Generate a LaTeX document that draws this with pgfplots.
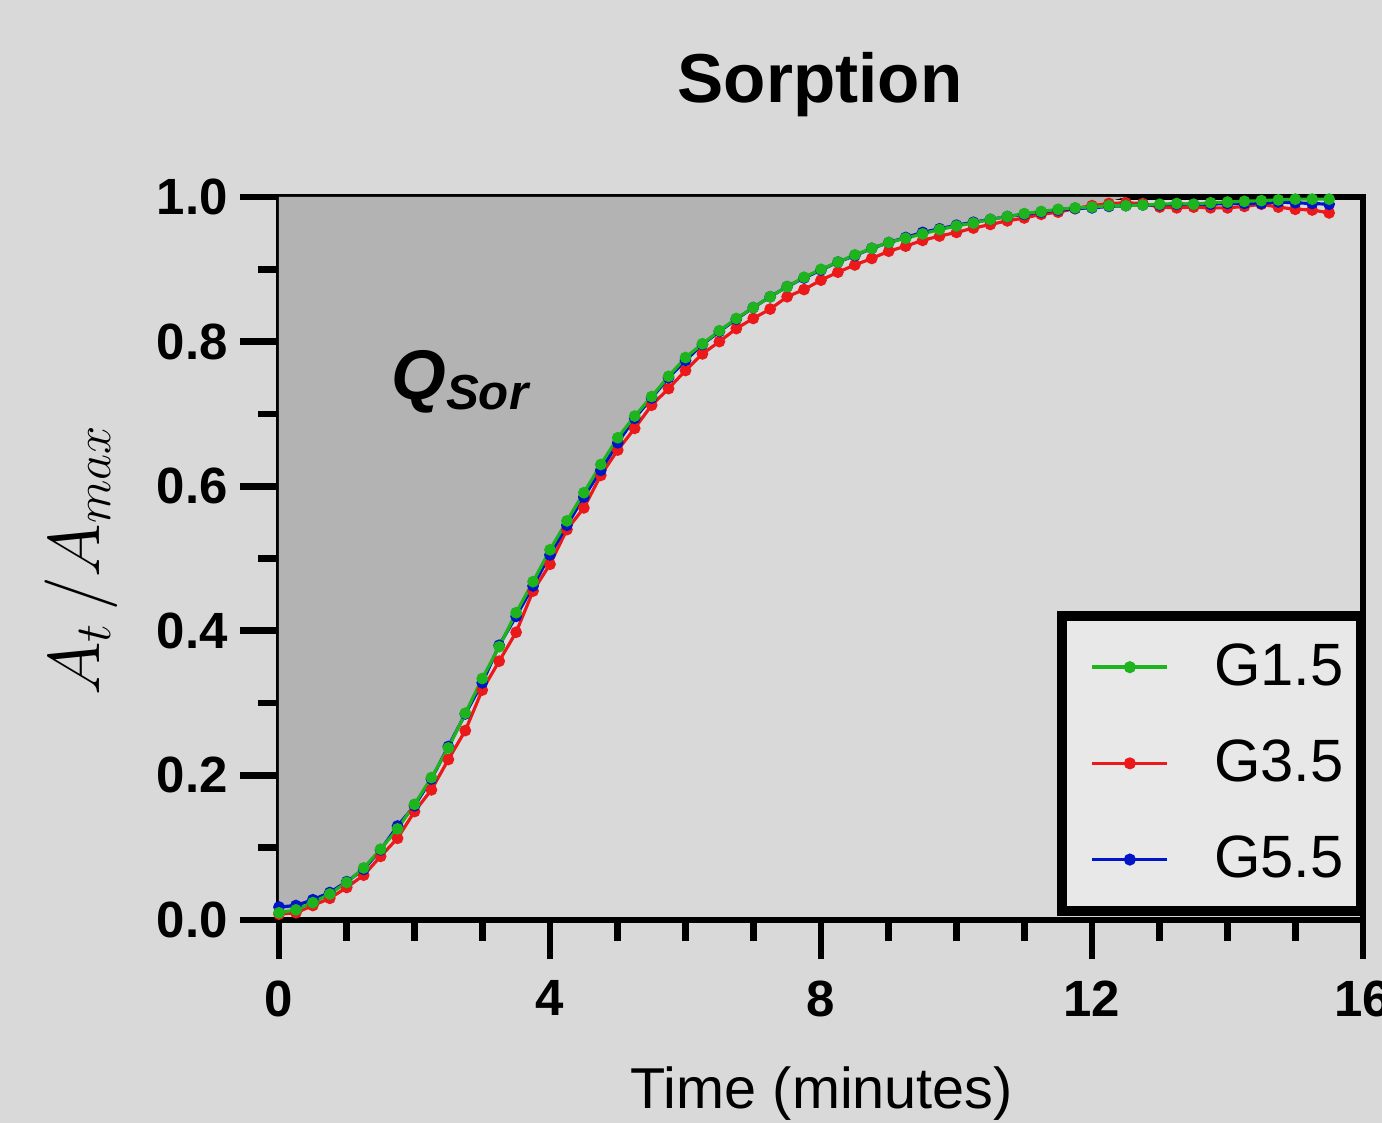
\documentclass[border=0pt]{standalone}
\usepackage{fontspec}
\setmainfont{Liberation Sans}
\usepackage{pgfplots}
\pgfplotsset{compat=1.18}
\usepackage{pgfplotstable}
\definecolor{bgc}{HTML}{D9D9D9}
\definecolor{shadec}{HTML}{B3B3B3}
\definecolor{legfill}{HTML}{E8E8E8}
\definecolor{cg}{RGB}{30,180,30}
\definecolor{cr}{RGB}{235,25,25}
\definecolor{cb}{RGB}{0,20,200}

\pgfplotstableread{
t y
0.00 0.010
0.25 0.014
0.50 0.024
0.75 0.036
1.00 0.052
1.25 0.072
1.50 0.098
1.75 0.126
2.00 0.160
2.25 0.197
2.50 0.238
2.75 0.286
3.00 0.334
3.25 0.378
3.50 0.425
3.75 0.468
4.00 0.512
4.25 0.552
4.50 0.591
4.75 0.630
5.00 0.667
5.25 0.697
5.50 0.724
5.75 0.752
6.00 0.778
6.25 0.797
6.50 0.815
6.75 0.832
7.00 0.847
7.25 0.862
7.50 0.876
7.75 0.889
8.00 0.900
8.25 0.910
8.50 0.920
8.75 0.929
9.00 0.937
9.25 0.943
9.50 0.949
9.75 0.955
10.00 0.960
10.25 0.964
10.50 0.969
10.75 0.973
11.00 0.977
11.25 0.980
11.50 0.983
11.75 0.985
12.00 0.986
12.25 0.988
12.50 0.988
12.75 0.989
13.00 0.990
13.25 0.991
13.50 0.990
13.75 0.992
14.00 0.993
14.25 0.994
14.50 0.995
14.75 0.996
15.00 0.997
15.25 0.997
15.50 0.997
}\greendata

\pgfplotstableread{
t y
0.00 0.008
0.25 0.010
0.50 0.020
0.75 0.030
1.00 0.045
1.25 0.062
1.50 0.088
1.75 0.113
2.00 0.150
2.25 0.180
2.50 0.222
2.75 0.262
3.00 0.318
3.25 0.358
3.50 0.398
3.75 0.455
4.00 0.492
4.25 0.540
4.50 0.570
4.75 0.615
5.00 0.650
5.25 0.680
5.50 0.712
5.75 0.735
6.00 0.760
6.25 0.783
6.50 0.800
6.75 0.818
7.00 0.832
7.25 0.845
7.50 0.862
7.75 0.872
8.00 0.885
8.25 0.896
8.50 0.906
8.75 0.915
9.00 0.925
9.25 0.932
9.50 0.940
9.75 0.946
10.00 0.951
10.25 0.957
10.50 0.962
10.75 0.967
11.00 0.971
11.25 0.976
11.50 0.979
11.75 0.984
12.00 0.988
12.25 0.991
12.50 0.992
12.75 0.991
13.00 0.986
13.25 0.985
13.50 0.986
13.75 0.985
14.00 0.985
14.25 0.987
14.50 0.990
14.75 0.986
15.00 0.983
15.25 0.982
15.50 0.978
}\reddata

\pgfplotstableread{
t y
0.00 0.018
0.25 0.020
0.50 0.028
0.75 0.038
1.00 0.053
1.25 0.070
1.50 0.097
1.75 0.130
2.00 0.158
2.25 0.195
2.50 0.240
2.75 0.285
3.00 0.328
3.25 0.380
3.50 0.420
3.75 0.462
4.00 0.505
4.25 0.546
4.50 0.585
4.75 0.622
5.00 0.660
5.25 0.694
5.50 0.722
5.75 0.750
6.00 0.774
6.25 0.796
6.50 0.814
6.75 0.831
7.00 0.847
7.25 0.862
7.50 0.876
7.75 0.888
8.00 0.899
8.25 0.910
8.50 0.919
8.75 0.929
9.00 0.937
9.25 0.944
9.50 0.951
9.75 0.956
10.00 0.961
10.25 0.965
10.50 0.969
10.75 0.973
11.00 0.976
11.25 0.979
11.50 0.982
11.75 0.984
12.00 0.985
12.25 0.987
12.50 0.988
12.75 0.989
13.00 0.989
13.25 0.990
13.50 0.990
13.75 0.990
14.00 0.991
14.25 0.991
14.50 0.991
14.75 0.993
15.00 0.992
15.25 0.991
15.50 0.990
}\bluedata

\begin{document}
\begin{tikzpicture}
\fill[bgc] (-2.79,-2.03) rectangle (11.03,9.20);
\begin{axis}[
  at={(0,0)}, anchor=south west,
  scale only axis, width=10.84cm, height=7.23cm,
  xmin=0, xmax=16, ymin=0, ymax=1,
  axis background/.style={fill=bgc},
  axis line style={line width=1.9pt},
  tick align=outside, tick pos=left,
  xtick={0,4,8,12,16}, minor x tick num=3,
  ytick={0,0.2,0.4,0.6,0.8,1.0}, minor y tick num=1,
  major tick length=0.39cm, minor tick length=0.21cm,
  every tick/.style={black, line width=1.9pt},
  tick label style={font=\bfseries\fontsize{14.5}{14.5}\selectfont},
  xticklabel style={yshift=-0.09cm},
  /pgf/number format/assume math mode=true,
  yticklabel style={/pgf/number format/.cd, fixed, fixed zerofill, precision=1},
  legend style={at={(rel axis cs:1.0030,0.428)}, anchor=north east,
    draw=black, line width=2.85pt, fill=legfill,
    font=\fontsize{17}{17}\selectfont,
    inner xsep=3pt, inner ysep=6pt, row sep=10pt, column sep=0.38cm,
    cells={inner xsep=1pt}},
  legend cell align=left,
  legend image code/.code={\path (-0.18cm,0cm); \draw[mark repeat=2,mark phase=2,#1] plot coordinates {(0cm,0cm)(0.375cm,0cm)(0.75cm,0cm)};},
]
\addplot[fill=shadec, draw=none, forget plot] coordinates {
(0,0.010)(0.25,0.018)(0.5,0.028)(0.75,0.040)(1,0.055)(1.25,0.074)(1.5,0.099)(1.75,0.130)(2,0.162)(2.25,0.199)(2.5,0.241)(2.75,0.288)(3,0.336)(3.25,0.381)(3.5,0.427)(3.75,0.470)(4,0.514)(4.25,0.554)(4.5,0.593)(4.75,0.632)(5,0.669)(5.25,0.699)(5.5,0.726)(5.75,0.754)(6,0.780)(6.25,0.799)(6.5,0.817)(6.75,0.834)(7,0.849)(7.25,0.864)(7.5,0.878)(7.75,0.891)(8,0.902)(8.25,0.912)(8.5,0.922)(8.75,0.931)(9,0.939)(9.25,0.945)(9.5,0.951)(9.75,0.957)(10,0.962)(10.25,0.966)(10.5,0.971)(10.75,0.975)(11,0.979)(11.25,0.982)(11.5,0.985)(11.75,0.987)(12,0.988)(12.5,1.0)(0,1.0)} -- cycle;
\addplot[cr, line width=0.9pt, mark=*, mark size=1.2pt, forget plot] table[x=t,y=y] {\reddata};
\addplot[cb, line width=0.9pt, mark=*, mark size=1.2pt, forget plot] table[x=t,y=y] {\bluedata};
\addplot[cg, line width=0.9pt, mark=*, mark size=1.2pt, forget plot] table[x=t,y=y] {\greendata};
\addlegendimage{cg, line width=1pt, mark=*, mark size=1.2pt}
\addlegendentry{G1.5}
\addlegendimage{cr, line width=1pt, mark=*, mark size=1.2pt}
\addlegendentry{G3.5}
\addlegendimage{cb, line width=1pt, mark=*, mark size=1.2pt}
\addlegendentry{G5.5}
\node[anchor=base west, inner sep=0pt, font=\bfseries\itshape\fontsize{20}{20}\selectfont] at (axis cs:1.65,0.72) {Q\raisebox{-2.8pt}{\fontsize{14}{14}\selectfont Sor}};
\end{axis}
\node[anchor=base, inner sep=0pt, font=\bfseries\fontsize{19.7}{20}\selectfont] at (5.41,8.17) {Sorption};
\node[anchor=base, inner sep=0pt, font=\fontsize{16.4}{17}\selectfont] at (5.43,-1.89) {Time (minutes)};
\node[rotate=90, anchor=base, inner sep=0pt, font=\fontsize{20}{20}\selectfont] at (-1.79,3.6) {$A_t\,/A_{max}$};
\pgfresetboundingbox
\useasboundingbox (-2.79,-2.03) rectangle (11.03,9.20);
\end{tikzpicture}
\end{document}
